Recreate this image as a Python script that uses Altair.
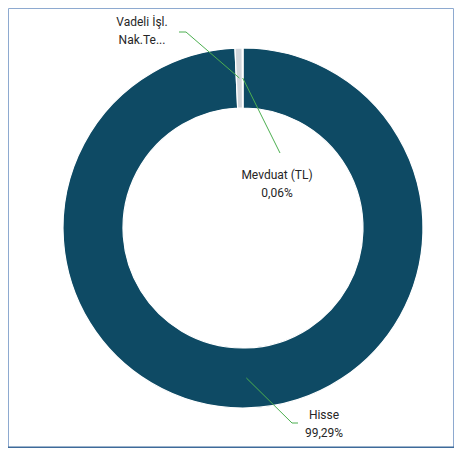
import altair as alt
import pandas as pd
import numpy as np

# ---- data ----
categories = ["Hisse", "Vadeli İşl. Nak.Te...", "Mevduat (TL)"]
values = [99.29, 0.65, 0.06]
colors = ["#0e4a64", "#d2d6db", "#f2f4f6"]
label_lines = [["Hisse", "99,29%"], ["Vadeli İşl.", "Nak.Te..."], ["Mevduat (TL)", "0,06%"]]

# ---- layout (pixels, plot area) ----
W, H = 446, 440
CX, CY = 235, 220
R_OUT, R_IN = 180, 120
LEADER_R = 150
label_pos = [(316, 416), (134, 23), (269, 176)]         # label block centres
leader_bend = [[(284, 415), (290, 415)], [(178, 24), (171, 24)], [(272, 145)]]
LINE_H = 18

df = pd.DataFrame({"cat": categories, "val": values, "order": range(len(values))})

# leader start points at mid-angle of each slice
cum = np.cumsum(values)
start = cum - np.array(values)
mid = (start + cum) / 2 / sum(values) * 2 * np.pi
lines_rows = []
for i, c in enumerate(categories):
    sx = CX + LEADER_R * np.sin(mid[i])
    sy = CY - LEADER_R * np.cos(mid[i])
    pts = [(sx, sy)] + leader_bend[i]
    for k, (px, py) in enumerate(pts):
        lines_rows.append({"cat": c, "k": k, "px": px, "py": py})
lines_df = pd.DataFrame(lines_rows)

text_rows = []
for i, c in enumerate(categories):
    n = len(label_lines[i])
    for j, t in enumerate(label_lines[i]):
        text_rows.append({"cat": c, "t": t, "tx": label_pos[i][0],
                          "ty": label_pos[i][1] + (j - (n - 1) / 2) * LINE_H})
text_df = pd.DataFrame(text_rows)

border = alt.Chart(pd.DataFrame({"a": [0]})).mark_rect(
    fill="white", stroke="#8eaad0", strokeWidth=1
).encode(x=alt.value(0.5), x2=alt.value(W - 0.5), y=alt.value(0.5), y2=alt.value(H - 0.5))

bottom_rule = alt.Chart(pd.DataFrame({"a": [0]})).mark_rule(
    color="#3d6a9a", strokeWidth=1.5
).encode(x=alt.value(0), x2=alt.value(W), y=alt.value(H - 0.75))

arcs = alt.Chart(df).mark_arc(
    outerRadius=R_OUT, innerRadius=R_IN, stroke="white", strokeWidth=1.2
).encode(
    theta=alt.Theta("val:Q", stack=True),
    order=alt.Order("order:Q"),
    color=alt.Color("cat:N", scale=alt.Scale(domain=categories, range=colors), legend=None),
    x=alt.value(CX), y=alt.value(CY),
)

leaders = alt.Chart(lines_df).mark_line(color="#4caf50", strokeWidth=1).encode(
    x=alt.X("px:Q", scale=None, axis=None),
    y=alt.Y("py:Q", scale=None, axis=None),
    detail="cat:N",
    order="k:Q",
)

labels = alt.Chart(text_df).mark_text(
    font="Roboto", fontSize=12, color="#262626", align="center", baseline="middle"
).encode(
    x=alt.X("tx:Q", scale=None, axis=None),
    y=alt.Y("ty:Q", scale=None, axis=None),
    text="t:N",
)

chart = alt.layer(border, bottom_rule, arcs, leaders, labels).properties(
    width=W, height=H, padding=0, autosize=alt.AutoSizeParams(type="none")
).configure_view(stroke=None)

chart.save("out.html", embed_options={"renderer": "svg", "actions": False})
